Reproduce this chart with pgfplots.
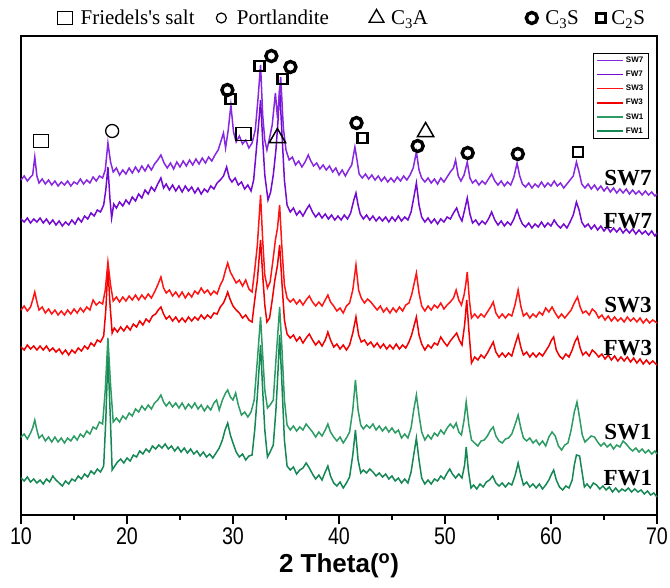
\documentclass[border=0pt]{standalone}
\usepackage{pgfplots}
\pgfplotsset{compat=1.18}
\usepackage{fontspec}
\setmainfont{Liberation Serif}
\newfontfamily\arial{Liberation Sans}
\newfontfamily\arialn[FakeStretch=0.82]{Liberation Sans}
\definecolor{sw7}{RGB}{135,40,225}
\definecolor{fw7}{RGB}{115,10,210}
\definecolor{sw3}{RGB}{255,20,20}
\definecolor{fw3}{RGB}{240,0,0}
\definecolor{sw1}{RGB}{45,155,100}
\definecolor{fw1}{RGB}{20,135,85}
\begin{document}
\begin{tikzpicture}
\path[use as bounding box] (-21pt,-73pt) rectangle (649pt,515pt);
\begin{axis}[
 scale only axis, width=636pt, height=479pt,
 xmin=10, xmax=70, ymin=36, ymax=515, y dir=reverse,
 ytick=\empty, xtick={10,20,...,70}, minor xtick={15,25,...,65},
 tick align=outside, xtick pos=lower,
 major tick length=9pt, minor tick length=5pt,
 tick style={black, line width=1.4pt},
 axis line style={line width=1.6pt},
 clip=false,
 /pgf/number format/assume math mode=true,
 xticklabel style={font=\arialn\fontsize{24}{24}\selectfont},
 xlabel={2 Theta(\textsuperscript{o})},
 xlabel style={font=\arial\bfseries\fontsize{26}{26}\selectfont, at={(axis description cs:0.5,-0.107)}, anchor=center},
 legend image code/.code={\draw[#1, line width=1.4pt] (0pt,0pt) -- (26pt,0pt);},
 reverse legend,
 legend cell align=left,
 legend style={at={(0.987,0.965)}, anchor=north east, draw=black, line width=0.8pt,
   font=\arial\bfseries\fontsize{8}{8}\selectfont, row sep=3pt, inner xsep=3pt, inner ysep=2pt},
 every axis plot/.append style={line width=1.5pt},
]
% FW1
\addplot[fw1] coordinates {(10,478)(10.3,481)(10.6,477)(10.9,482)(11.2,479)(11.5,483)(11.8,480)(12.1,484)(12.4,479)(12.7,482)(13.0,476)(13.3,480)(13.6,483)(13.9,486)(14.2,481)(14.5,484)(14.8,479)(15.1,481)(15.4,476)(15.7,479)(16.0,474)(16.3,477)(16.6,471)(16.9,474)(17.2,469)(17.5,472)(17.8,466)(18.0,420)(18.2,355)(18.4,410)(18.6,470)(18.85,466)(19.1,462)(19.4,459)(19.7,463)(20.0,458)(20.3,461)(20.6,455)(20.9,457)(21.2,451)(21.5,454)(21.8,449)(22.1,452)(22.4,446)(22.7,449)(23.0,445)(23.3,448)(23.6,444)(23.9,449)(24.2,446)(24.5,451)(24.8,447)(25.1,452)(25.4,448)(25.7,453)(26.0,449)(26.3,454)(26.6,451)(26.9,456)(27.2,452)(27.5,457)(27.8,454)(28.1,458)(28.4,453)(28.7,448)(29.0,440)(29.25,430)(29.5,423)(29.75,435)(30.0,443)(30.3,452)(30.6,457)(30.9,454)(31.2,460)(31.5,456)(31.8,455)(32.05,430)(32.3,395)(32.6,345)(32.8,390)(33.0,430)(33.25,457)(33.5,452)(33.8,445)(34.05,410)(34.25,370)(34.4,335)(34.6,380)(34.85,440)(35.1,466)(35.4,470)(35.7,467)(36.0,474)(36.3,470)(36.6,468)(36.9,463)(37.2,468)(37.5,474)(37.8,479)(38.1,475)(38.4,480)(38.7,472)(38.95,466)(39.2,476)(39.5,483)(39.8,486)(40.1,482)(40.4,488)(40.7,483)(41.0,477)(41.3,455)(41.55,430)(41.8,460)(42.05,473)(42.3,470)(42.6,473)(42.9,469)(43.2,472)(43.5,476)(43.8,473)(44.1,477)(44.4,474)(44.7,479)(45.0,476)(45.3,481)(45.6,478)(45.9,483)(46.2,479)(46.5,483)(46.8,472)(47.05,455)(47.3,438)(47.55,460)(47.8,478)(48.1,484)(48.4,480)(48.7,484)(49.0,479)(49.3,481)(49.6,476)(49.9,479)(50.2,473)(50.45,469)(50.7,474)(51.0,478)(51.3,474)(51.6,478)(51.85,465)(52.0,447)(52.2,470)(52.45,488)(52.7,485)(53.0,489)(53.3,484)(53.6,487)(53.9,482)(54.2,480)(54.5,476)(54.8,483)(55.1,486)(55.4,483)(55.7,487)(56.0,483)(56.3,485)(56.6,476)(56.9,463)(57.15,475)(57.4,485)(57.7,482)(58.0,487)(58.3,484)(58.6,488)(58.9,484)(59.2,489)(59.5,485)(59.8,480)(60.05,474)(60.25,470)(60.5,480)(60.8,487)(61.1,490)(61.4,486)(61.7,488)(62.0,480)(62.2,465)(62.4,455)(62.7,456)(62.9,470)(63.15,487)(63.4,484)(63.7,488)(64.0,483)(64.3,485)(64.6,489)(64.9,486)(65.2,490)(65.5,487)(65.8,492)(66.1,488)(66.4,492)(66.7,489)(67.0,491)(67.3,488)(67.6,492)(67.9,489)(68.2,492)(68.5,490)(68.8,494)(69.1,491)(69.4,495)(69.7,493)(70,497)};
\addlegendentry{FW1}
% SW1
\addplot[sw1] coordinates {(10,437)(10.3,434)(10.6,439)(10.9,433)(11.1,428)(11.3,420)(11.5,430)(11.7,438)(12.0,435)(12.3,441)(12.6,437)(12.9,442)(13.2,437)(13.5,442)(13.8,438)(14.1,443)(14.4,438)(14.7,441)(15.0,436)(15.3,440)(15.6,434)(15.9,437)(16.2,431)(16.5,434)(16.8,427)(17.1,429)(17.4,422)(17.7,424)(17.95,390)(18.2,338)(18.45,385)(18.7,422)(19.0,418)(19.3,422)(19.6,416)(19.9,419)(20.2,413)(20.5,416)(20.8,409)(21.1,412)(21.4,406)(21.7,410)(22.0,405)(22.3,409)(22.6,403)(22.9,400)(23.2,395)(23.45,402)(23.7,406)(24.0,402)(24.3,407)(24.6,403)(24.9,408)(25.2,403)(25.5,409)(25.8,404)(26.1,408)(26.4,403)(26.7,409)(27.0,405)(27.3,411)(27.6,406)(27.9,410)(28.2,403)(28.45,400)(28.7,410)(29.0,400)(29.3,393)(29.5,390)(29.75,397)(30.0,400)(30.25,393)(30.5,405)(30.8,415)(31.1,412)(31.4,417)(31.7,412)(32.0,400)(32.3,360)(32.6,317)(32.8,355)(33.0,390)(33.25,408)(33.5,405)(33.8,400)(34.05,360)(34.25,330)(34.4,307)(34.6,345)(34.85,400)(35.1,425)(35.4,430)(35.7,426)(36.0,431)(36.3,427)(36.6,430)(36.9,424)(37.2,428)(37.5,432)(37.8,437)(38.1,432)(38.4,436)(38.7,430)(38.95,424)(39.2,432)(39.5,437)(39.8,441)(40.1,437)(40.4,443)(40.7,438)(41.0,432)(41.3,410)(41.55,380)(41.8,410)(42.05,425)(42.3,429)(42.6,425)(42.9,428)(43.2,424)(43.5,430)(43.8,426)(44.1,431)(44.4,427)(44.7,432)(45.0,428)(45.3,433)(45.6,430)(45.9,438)(46.2,434)(46.5,438)(46.8,428)(47.05,410)(47.3,395)(47.55,415)(47.8,432)(48.1,440)(48.4,435)(48.7,439)(49.0,433)(49.3,436)(49.6,430)(49.9,434)(50.2,428)(50.5,424)(50.8,428)(51.05,423)(51.3,432)(51.55,435)(51.8,420)(52.0,402)(52.25,425)(52.5,440)(52.8,443)(53.1,446)(53.4,441)(53.7,440)(54.0,436)(54.3,430)(54.55,427)(54.8,436)(55.1,441)(55.4,443)(55.7,439)(56.0,438)(56.3,434)(56.6,425)(56.9,415)(57.15,428)(57.4,438)(57.7,441)(58.0,438)(58.3,443)(58.6,440)(58.9,445)(59.2,441)(59.5,446)(59.8,437)(60.1,432)(60.4,436)(60.7,446)(61.0,450)(61.3,445)(61.6,443)(61.9,430)(62.2,412)(62.45,402)(62.7,418)(62.95,435)(63.2,442)(63.5,439)(63.8,436)(64.1,437)(64.4,442)(64.7,446)(65.0,443)(65.3,447)(65.6,444)(65.9,449)(66.2,445)(66.5,447)(66.8,441)(67.1,444)(67.4,448)(67.7,451)(68.0,448)(68.3,452)(68.6,449)(68.9,453)(69.2,450)(69.5,454)(69.8,451)(70,454)};
\addlegendentry{SW1}
% FW3
\addplot[fw3] coordinates {(10,347)(10.3,350)(10.6,345)(10.9,349)(11.2,346)(11.5,350)(11.8,346)(12.1,350)(12.4,346)(12.7,351)(13.0,348)(13.3,352)(13.6,349)(13.9,354)(14.2,350)(14.5,355)(14.8,350)(15.1,353)(15.4,348)(15.7,351)(16.0,346)(16.3,349)(16.6,343)(16.9,346)(17.2,340)(17.5,342)(17.8,336)(18.0,310)(18.2,268)(18.4,305)(18.6,333)(18.8,328)(19.1,332)(19.4,327)(19.7,331)(20.0,326)(20.3,330)(20.6,324)(20.9,327)(21.2,321)(21.5,325)(21.8,319)(22.1,322)(22.4,316)(22.7,314)(22.95,310)(23.2,307)(23.45,314)(23.7,319)(24.0,316)(24.3,321)(24.6,317)(24.9,322)(25.2,318)(25.5,322)(25.8,317)(26.1,321)(26.4,317)(26.7,320)(27.0,315)(27.3,319)(27.6,315)(27.9,318)(28.2,313)(28.5,314)(28.8,307)(29.1,303)(29.3,298)(29.5,292)(29.75,300)(30.0,306)(30.3,310)(30.6,313)(30.9,318)(31.2,315)(31.5,320)(31.8,322)(32.05,300)(32.3,280)(32.6,240)(32.8,275)(33.0,305)(33.2,322)(33.45,318)(33.7,300)(33.95,280)(34.2,265)(34.4,245)(34.6,280)(34.85,320)(35.1,334)(35.4,338)(35.7,335)(36.0,341)(36.3,337)(36.6,343)(36.9,338)(37.2,334)(37.5,340)(37.8,345)(38.1,341)(38.4,346)(38.7,340)(38.95,332)(39.2,340)(39.5,347)(39.8,344)(40.1,349)(40.4,345)(40.7,350)(41.0,345)(41.3,333)(41.6,317)(41.85,335)(42.1,342)(42.4,340)(42.7,345)(43.0,342)(43.3,347)(43.6,343)(43.9,348)(44.2,344)(44.5,349)(44.8,345)(45.1,349)(45.4,344)(45.7,349)(46.0,345)(46.3,348)(46.6,342)(46.85,335)(47.1,325)(47.3,317)(47.55,335)(47.8,344)(48.1,350)(48.4,345)(48.7,348)(49.0,343)(49.3,345)(49.6,337)(49.9,342)(50.2,346)(50.5,341)(50.8,337)(51.1,333)(51.35,340)(51.6,345)(51.85,325)(52.05,300)(52.25,330)(52.5,363)(52.8,357)(53.1,360)(53.4,355)(53.7,358)(54.0,353)(54.3,347)(54.55,342)(54.8,352)(55.1,357)(55.4,353)(55.7,357)(56.0,353)(56.3,356)(56.6,345)(56.9,335)(57.15,347)(57.4,355)(57.7,352)(58.0,357)(58.3,353)(58.6,357)(58.9,353)(59.2,356)(59.5,351)(59.8,346)(60.05,340)(60.25,337)(60.5,350)(60.8,356)(61.1,359)(61.4,354)(61.7,357)(62.0,350)(62.25,342)(62.5,337)(62.75,348)(63.0,355)(63.3,352)(63.6,356)(63.9,350)(64.2,353)(64.5,357)(64.8,354)(65.1,359)(65.4,355)(65.7,360)(66.0,356)(66.3,361)(66.6,357)(66.9,361)(67.2,357)(67.5,362)(67.8,358)(68.1,363)(68.4,359)(68.7,364)(69.0,360)(69.3,364)(69.6,361)(70,365)};
\addlegendentry{FW3}
% SW3
\addplot[sw3] coordinates {(10,310)(10.3,306)(10.6,311)(10.9,307)(11.1,300)(11.3,292)(11.5,302)(11.7,310)(12.0,307)(12.3,313)(12.6,309)(12.9,314)(13.2,310)(13.5,315)(13.8,311)(14.1,315)(14.4,310)(14.7,314)(15.0,309)(15.3,313)(15.6,308)(15.9,312)(16.2,307)(16.5,310)(16.8,300)(17.1,305)(17.4,302)(17.7,304)(17.95,290)(18.2,262)(18.45,285)(18.7,301)(19.0,297)(19.3,302)(19.6,297)(19.9,301)(20.2,296)(20.5,300)(20.8,295)(21.1,300)(21.4,295)(21.7,299)(22.0,294)(22.3,298)(22.6,292)(22.9,285)(23.2,277)(23.45,288)(23.7,293)(24.0,290)(24.3,296)(24.6,292)(24.9,297)(25.2,292)(25.5,298)(25.8,293)(26.1,297)(26.4,291)(26.7,294)(27.0,288)(27.3,293)(27.6,290)(27.9,295)(28.2,291)(28.5,294)(28.8,285)(29.05,280)(29.3,270)(29.5,263)(29.75,272)(30.0,277)(30.3,283)(30.6,280)(30.9,286)(31.2,280)(31.5,289)(31.8,292)(32.05,270)(32.3,245)(32.6,195)(32.8,240)(33.0,275)(33.25,288)(33.5,282)(33.75,262)(34.0,240)(34.2,228)(34.4,205)(34.6,245)(34.85,285)(35.1,298)(35.4,302)(35.7,299)(36.0,304)(36.3,300)(36.6,305)(36.9,300)(37.2,296)(37.5,302)(37.8,306)(38.1,302)(38.4,306)(38.7,300)(38.95,295)(39.2,302)(39.5,306)(39.8,311)(40.1,308)(40.4,313)(40.7,306)(41.0,303)(41.3,290)(41.6,265)(41.85,290)(42.1,298)(42.4,303)(42.7,299)(43.0,302)(43.3,306)(43.6,310)(43.9,306)(44.2,312)(44.5,308)(44.8,313)(45.1,308)(45.4,312)(45.7,307)(46.0,311)(46.3,305)(46.6,303)(46.85,295)(47.1,283)(47.3,273)(47.55,293)(47.8,306)(48.1,311)(48.4,306)(48.7,310)(49.0,305)(49.3,308)(49.6,303)(49.9,309)(50.2,305)(50.5,302)(50.8,298)(51.05,290)(51.3,300)(51.55,305)(51.8,295)(51.95,285)(52.1,272)(52.3,300)(52.5,318)(52.8,314)(53.1,318)(53.4,314)(53.7,317)(54.0,312)(54.3,307)(54.55,302)(54.8,313)(55.1,318)(55.4,314)(55.7,318)(56.0,314)(56.3,316)(56.6,305)(56.9,290)(57.15,306)(57.4,316)(57.7,313)(58.0,318)(58.3,314)(58.6,317)(58.9,312)(59.2,315)(59.5,308)(59.8,312)(60.1,307)(60.4,313)(60.7,318)(61.0,314)(61.3,318)(61.6,314)(61.9,310)(62.2,303)(62.5,297)(62.75,307)(63.0,313)(63.3,311)(63.6,315)(63.9,309)(64.2,312)(64.5,318)(64.8,315)(65.1,320)(65.4,316)(65.7,321)(66.0,317)(66.3,321)(66.6,318)(66.9,322)(67.2,317)(67.5,321)(67.8,318)(68.1,322)(68.4,318)(68.7,323)(69.0,319)(69.3,323)(69.6,320)(70,323)};
\addlegendentry{SW3}
% FW7
\addplot[fw7] coordinates {(10,219)(10.3,222)(10.6,218)(10.9,223)(11.2,219)(11.5,222)(11.8,218)(12.1,223)(12.4,219)(12.7,224)(13.0,220)(13.3,225)(13.6,221)(13.9,226)(14.2,222)(14.5,225)(14.8,220)(15.1,224)(15.4,218)(15.7,222)(16.0,216)(16.3,219)(16.6,213)(16.9,216)(17.2,210)(17.5,212)(17.8,205)(18.0,190)(18.2,167)(18.4,200)(18.55,218)(18.75,204)(19.0,208)(19.3,202)(19.6,206)(19.9,200)(20.2,204)(20.5,197)(20.8,201)(21.1,194)(21.4,198)(21.7,190)(22.0,194)(22.3,187)(22.6,191)(22.9,184)(23.2,178)(23.45,188)(23.7,184)(24.0,190)(24.3,185)(24.6,191)(24.9,186)(25.2,192)(25.5,186)(25.8,191)(26.1,187)(26.4,193)(26.7,188)(27.0,194)(27.3,189)(27.6,192)(27.9,186)(28.2,189)(28.5,183)(28.8,180)(29.1,176)(29.4,167)(29.65,178)(29.9,182)(30.2,178)(30.5,185)(30.8,182)(31.1,189)(31.4,185)(31.7,191)(31.95,180)(32.2,150)(32.45,120)(32.6,100)(32.8,140)(33.0,175)(33.3,200)(33.55,192)(33.8,175)(34.05,150)(34.25,120)(34.4,88)(34.6,130)(34.85,180)(35.1,205)(35.4,212)(35.7,208)(36.0,215)(36.3,211)(36.6,216)(36.9,210)(37.2,205)(37.5,212)(37.8,217)(38.1,213)(38.4,218)(38.7,214)(39.0,219)(39.3,215)(39.6,220)(39.9,216)(40.2,220)(40.5,215)(40.8,219)(41.1,213)(41.4,200)(41.6,193)(41.8,205)(42.0,214)(42.3,219)(42.6,215)(42.9,220)(43.2,216)(43.5,221)(43.8,217)(44.1,221)(44.4,217)(44.7,222)(45.0,217)(45.3,221)(45.6,216)(45.9,221)(46.2,217)(46.5,220)(46.8,212)(47.1,195)(47.3,183)(47.55,205)(47.8,217)(48.1,222)(48.4,218)(48.7,223)(49.0,219)(49.3,224)(49.6,219)(49.9,222)(50.2,217)(50.5,219)(50.8,213)(51.1,208)(51.35,216)(51.6,221)(51.85,210)(52.1,198)(52.35,214)(52.6,223)(52.9,220)(53.2,225)(53.5,221)(53.8,224)(54.1,219)(54.4,212)(54.7,220)(55.0,225)(55.3,221)(55.6,226)(55.9,222)(56.2,225)(56.5,219)(56.8,210)(57.05,218)(57.3,224)(57.6,227)(57.9,223)(58.2,228)(58.5,224)(58.8,227)(59.1,222)(59.4,227)(59.7,223)(60.0,226)(60.3,220)(60.6,225)(60.9,228)(61.2,224)(61.5,228)(61.8,222)(62.1,215)(62.4,202)(62.65,210)(62.9,222)(63.2,227)(63.5,224)(63.8,229)(64.1,225)(64.4,230)(64.7,226)(65.0,231)(65.3,227)(65.6,232)(65.9,228)(66.2,232)(66.5,228)(66.8,233)(67.1,229)(67.4,233)(67.7,229)(68.0,234)(68.3,230)(68.6,234)(68.9,231)(69.2,235)(69.5,231)(69.8,236)(70,233)};
\addlegendentry{FW7}
% SW7
\addplot[sw7] coordinates {(10,180)(10.3,176)(10.6,181)(10.9,177)(11.1,175)(11.3,157)(11.5,176)(11.7,183)(12.0,179)(12.3,184)(12.6,180)(12.9,185)(13.2,181)(13.5,186)(13.8,182)(14.1,185)(14.4,181)(14.7,186)(15.0,182)(15.3,184)(15.6,179)(15.9,184)(16.2,180)(16.5,183)(16.8,177)(17.1,181)(17.4,176)(17.7,178)(17.95,170)(18.2,143)(18.45,162)(18.7,172)(19.0,168)(19.3,175)(19.6,170)(19.9,174)(20.2,168)(20.5,173)(20.8,167)(21.1,172)(21.4,166)(21.7,171)(22.0,165)(22.3,170)(22.6,164)(22.9,160)(23.2,155)(23.5,163)(23.8,168)(24.1,163)(24.4,169)(24.7,162)(25.0,167)(25.3,161)(25.6,166)(25.9,160)(26.2,165)(26.5,159)(26.8,164)(27.1,158)(27.4,163)(27.7,157)(28.0,161)(28.3,155)(28.6,150)(28.9,140)(29.1,133)(29.3,148)(29.55,130)(29.8,105)(30.05,132)(30.3,142)(30.6,136)(30.9,144)(31.2,140)(31.5,148)(31.8,143)(32.1,130)(32.35,100)(32.6,65)(32.8,115)(33.0,140)(33.2,150)(33.45,138)(33.7,125)(34.0,93)(34.2,118)(34.5,77)(34.75,128)(35.0,150)(35.3,160)(35.6,157)(35.9,165)(36.2,161)(36.5,167)(36.8,162)(37.1,155)(37.3,160)(37.6,166)(37.9,163)(38.2,169)(38.5,165)(38.8,170)(39.1,166)(39.4,172)(39.7,168)(40.0,175)(40.3,170)(40.6,176)(40.9,170)(41.2,165)(41.5,147)(41.7,160)(41.9,174)(42.2,178)(42.5,174)(42.8,179)(43.1,175)(43.4,180)(43.7,176)(44.0,181)(44.3,177)(44.6,182)(44.9,178)(45.2,182)(45.5,177)(45.8,181)(46.1,176)(46.4,180)(46.7,175)(47.0,168)(47.3,152)(47.55,170)(47.8,178)(48.1,182)(48.4,178)(48.7,183)(49.0,179)(49.3,184)(49.6,178)(49.9,182)(50.2,177)(50.5,172)(50.8,168)(51.0,160)(51.25,176)(51.5,181)(51.8,175)(52.1,162)(52.35,178)(52.6,183)(52.9,180)(53.2,185)(53.5,181)(53.8,184)(54.1,179)(54.4,174)(54.7,181)(55.0,185)(55.3,181)(55.6,186)(55.9,182)(56.2,185)(56.5,177)(56.8,163)(57.05,176)(57.3,184)(57.6,187)(57.9,183)(58.2,188)(58.5,184)(58.8,187)(59.1,182)(59.4,187)(59.7,183)(60.0,186)(60.3,181)(60.6,186)(60.9,183)(61.2,188)(61.5,184)(61.8,180)(62.1,176)(62.4,162)(62.65,172)(62.9,184)(63.2,188)(63.5,184)(63.8,189)(64.1,185)(64.4,190)(64.7,186)(65.0,191)(65.3,187)(65.6,192)(65.9,188)(66.2,193)(66.5,189)(66.8,193)(67.1,189)(67.4,194)(67.7,190)(68.0,194)(68.3,191)(68.6,195)(68.9,191)(69.2,195)(69.5,192)(69.8,196)(70,194)};
\addlegendentry{SW7}
% peak markers
\addplot[forget plot, only marks, mark=square, mark size=6.5pt, mark options={xscale=1.15, line width=1.6pt, draw=black}] coordinates {(11.89,141)(30.98,134)(14.16,18)};
\addplot[forget plot, only marks, mark=square, mark size=5pt, mark options={line width=2.4pt, draw=black}] coordinates {(29.75,99)(32.49,66)(34.66,79)(42.22,138)(62.54,152)};
\addplot[forget plot, only marks, mark=square, mark size=4.5pt, mark options={line width=2.2pt, draw=black}] coordinates {(64.71,18)};
\addplot[forget plot, only marks, mark=o, mark size=5.5pt, mark options={line width=3.4pt, draw=black}] coordinates {(29.47,90)(33.62,56)(35.42,67)(41.65,123)(47.42,146)(52.14,153)(56.87,154)(58.19,18)};
\addplot[forget plot, only marks, mark=o, mark size=6.5pt, mark options={line width=1.3pt, draw=black}] coordinates {(18.6,131)};
\addplot[forget plot, only marks, mark=o, mark size=5pt, mark options={line width=1.2pt, draw=black}] coordinates {(28.9,18)};
\addplot[forget plot, only marks, mark=triangle, mark size=9.5pt, mark options={line width=1.5pt, draw=black}] coordinates {(34.19,138)(48.17,132)};
\addplot[forget plot, only marks, mark=triangle, mark size=8.5pt, mark options={line width=1.4pt, draw=black}] coordinates {(43.54,18)};
% header text
\node[anchor=base west, font=\fontsize{21}{21}\selectfont] at (axis cs:15.29,25) {Friedels\textquotesingle s salt};
\node[anchor=base west, font=\fontsize{21}{21}\selectfont] at (axis cs:30.03,25) {Portlandite};
\node[anchor=base west, font=\fontsize{21}{21}\selectfont] at (axis cs:44.58,25) {C\textsubscript{3}A};
\node[anchor=base west, font=\fontsize{21}{21}\selectfont] at (axis cs:59.13,25) {C\textsubscript{3}S};
\node[anchor=base west, font=\fontsize{21}{21}\selectfont] at (axis cs:65.37,25) {C\textsubscript{2}S};
% series labels
\node[font=\bfseries\fontsize{23}{23}\selectfont] at (axis cs:67.26,178) {SW7};
\node[font=\bfseries\fontsize{23}{23}\selectfont] at (axis cs:67.26,221) {FW7};
\node[font=\bfseries\fontsize{23}{23}\selectfont] at (axis cs:67.26,305) {SW3};
\node[font=\bfseries\fontsize{23}{23}\selectfont] at (axis cs:67.26,348) {FW3};
\node[font=\bfseries\fontsize{23}{23}\selectfont] at (axis cs:67.26,432) {SW1};
\node[font=\bfseries\fontsize{23}{23}\selectfont] at (axis cs:67.26,478) {FW1};
\end{axis}
\end{tikzpicture}
\end{document}
